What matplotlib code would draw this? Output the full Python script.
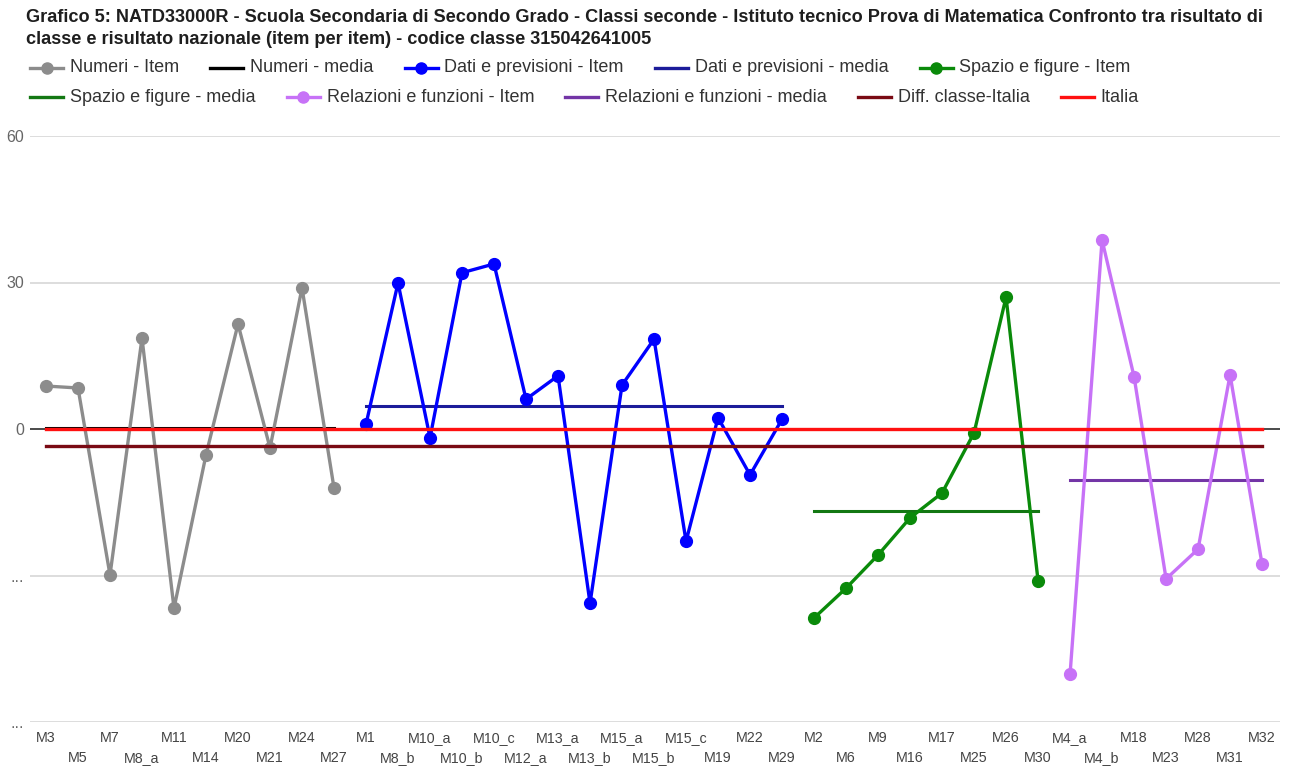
import numpy as np
import matplotlib.pyplot as plt
from matplotlib.lines import Line2D

plt.rcParams['font.family'] = ['Liberation Sans', 'DejaVu Sans']

# dati (differenza classe - Italia, punti percentuali)
numeri_item = ['M3', 'M5', 'M7', 'M8_a', 'M11', 'M14', 'M20', 'M21', 'M24', 'M27']
numeri_val = [8.8, 8.4, -29.9, 18.6, -36.7, -5.3, 21.5, -3.9, 28.9, -12.1]
numeri_media = 0.2

dati_item = ['M1', 'M8_b', 'M10_a', 'M10_b', 'M10_c', 'M12_a', 'M13_a', 'M13_b',
             'M15_a', 'M15_b', 'M15_c', 'M19', 'M22', 'M29']
dati_val = [1.0, 29.9, -1.8, 32.0, 33.8, 6.1, 10.9, -35.7, 9.0, 18.4, -23.0, 2.3, -9.4, 2.0]
dati_media = 4.7

spazio_item = ['M2', 'M6', 'M9', 'M16', 'M17', 'M25', 'M26', 'M30']
spazio_val = [-38.7, -32.6, -25.8, -18.2, -13.1, -0.8, 27.0, -31.1]
spazio_media = -16.8

relaz_item = ['M4_a', 'M4_b', 'M18', 'M23', 'M28', 'M31', 'M32']
relaz_val = [-50.2, 38.7, 10.7, -30.7, -24.6, 11.1, -27.7]
relaz_media = -10.5

diff_classe_italia = -3.5
italia = 0.0

y_ticks = [60, 30, 0, -30, -60]
y_labels = ['60', '30', '0', '...', '...']

title1 = ('Grafico 5: NATD33000R - Scuola Secondaria di Secondo Grado - Classi seconde - '
          'Istituto tecnico Prova di Matematica Confronto tra risultato di')
title2 = 'classe e risultato nazionale (item per item) - codice classe 315042641005'

W, H = 1290, 767
fig = plt.figure(figsize=(W / 100, H / 100), dpi=100)
ax = fig.add_axes([30 / W, 1 - 722 / H, 1250 / W, 586 / H])

categorie = numeri_item + dati_item + spazio_item + relaz_item
n = len(categorie)

gruppi = [
    (numeri_item, numeri_val, numeri_media, '#8c8c8c', '#000000'),
    (dati_item, dati_val, dati_media, '#0000ff', '#1c1c9a'),
    (spazio_item, spazio_val, spazio_media, '#0a8a0a', '#137813'),
    (relaz_item, relaz_val, relaz_media, '#c772f7', '#7335a6'),
]

start = 0
for items, vals, media, c_item, c_media in gruppi:
    x = np.arange(start, start + len(items))
    ax.plot(x, vals, color=c_item, lw=2.4, marker='o', ms=8.5, zorder=3, clip_on=False)
    ax.plot([x[0], x[-1]], [media, media], color=c_media, lw=2.2, zorder=2)
    start += len(items)

ax.plot([0, n - 1], [diff_classe_italia] * 2, color='#7a0a14', lw=2.4, zorder=4)
ax.plot([0, n - 1], [italia] * 2, color='#ff1010', lw=2.4, zorder=4)

ax.axhline(0, color='#333333', lw=1.2, zorder=1)
ax.set_xlim(-0.5, n - 1 + 0.56)
ax.set_ylim(-60, 60)
ax.set_yticks(y_ticks)
ax.set_yticklabels(y_labels, fontsize=11.5, color='#666666')
ax.yaxis.grid(True, color='#dadada', lw=1.3, zorder=0)
ax.set_axisbelow(True)

# etichette asse x su due righe alternate
pos = np.arange(n)
ax.set_xticks(pos[::2])
ax.set_xticklabels(categorie[::2], fontsize=10.3, color='#444444')
ax.set_xticks(pos[1::2], minor=True)
ax.set_xticklabels(categorie[1::2], minor=True, fontsize=10.3, color='#444444')
ax.tick_params(axis='x', which='both', length=0)
ax.tick_params(axis='x', which='major', pad=6.8)
ax.tick_params(axis='x', which='minor', pad=20.8)
ax.tick_params(axis='y', length=0, pad=4)
for s in ax.spines.values():
    s.set_visible(False)

# titolo
fig.text(26 / W, 1 - 18 / H, title1, fontsize=13.1, fontweight='bold', color='#1e1e1e', va='center')
fig.text(26 / W, 1 - 40 / H, title2, fontsize=13.1, fontweight='bold', color='#1e1e1e', va='center')

# legenda disposta in riga come nell'originale
leg = [
    [('Numeri - Item', '#8c8c8c', True), ('Numeri - media', '#000000', False),
     ('Dati e previsioni - Item', '#0000ff', True), ('Dati e previsioni - media', '#1c1c9a', False),
     ('Spazio e figure - Item', '#0a8a0a', True)],
    [('Spazio e figure - media', '#137813', False), ('Relazioni e funzioni - Item', '#c772f7', True),
     ('Relazioni e funzioni - media', '#7335a6', False), ('Diff. classe-Italia', '#7a0a14', False),
     ('Italia', '#ff1010', False)],
]
renderer = fig.canvas.get_renderer()
for riga, yp in zip(leg, [68, 97]):
    xp = 30
    yf = 1 - yp / H
    for testo, col, marker in riga:
        fig.add_artist(Line2D([xp / W, (xp + 33) / W], [yf, yf], transform=fig.transFigure,
                              color=col, lw=2.4))
        if marker:
            fig.add_artist(Line2D([(xp + 16.5) / W], [yf], transform=fig.transFigure,
                                  color=col, marker='o', ms=8))
        t = fig.text((xp + 40) / W, yf, testo, fontsize=13.0, color='#333333', va='center')
        bb = t.get_window_extent(renderer)
        xp = bb.x1 + 31

fig.savefig('out.png', dpi=100)
